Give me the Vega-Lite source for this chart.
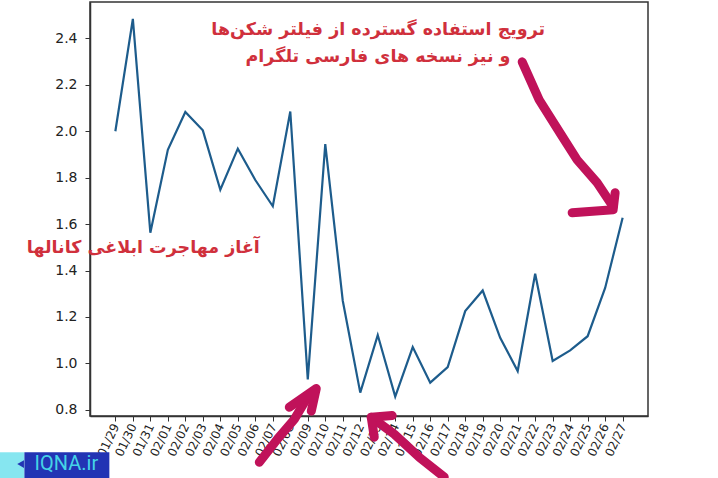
{
  "$schema": "https://vega.github.io/schema/vega-lite/v6.json",
  "autosize": "none",
  "width": 558,
  "height": 414,
  "padding": {"left": 90, "top": 2, "right": 70, "bottom": 62},
  "background": "white",
  "config": {
    "view": {"stroke": "#333333", "strokeWidth": 1.5},
    "axis": {"grid": false, "domainColor": "#333333", "domainWidth": 1.5, "tickColor": "#333333", "labelColor": "#222222", "labelFont": "DejaVu Sans", "title": null}
  },
  "datasets": {
    "series": [
      {"date": "2018-01-29T00:00", "value": 2.0},
      {"date": "2018-01-30T00:00", "value": 2.484},
      {"date": "2018-01-31T00:00", "value": 1.563},
      {"date": "2018-02-01T00:00", "value": 1.92},
      {"date": "2018-02-02T00:00", "value": 2.083},
      {"date": "2018-02-03T00:00", "value": 2.004},
      {"date": "2018-02-04T00:00", "value": 1.748},
      {"date": "2018-02-05T00:00", "value": 1.925},
      {"date": "2018-02-06T00:00", "value": 1.79},
      {"date": "2018-02-07T00:00", "value": 1.677},
      {"date": "2018-02-08T00:00", "value": 2.085},
      {"date": "2018-02-09T00:00", "value": 0.931},
      {"date": "2018-02-10T00:00", "value": 1.945},
      {"date": "2018-02-11T00:00", "value": 1.27},
      {"date": "2018-02-12T00:00", "value": 0.874},
      {"date": "2018-02-13T00:00", "value": 1.122},
      {"date": "2018-02-14T00:00", "value": 0.857},
      {"date": "2018-02-15T00:00", "value": 1.07},
      {"date": "2018-02-16T00:00", "value": 0.917},
      {"date": "2018-02-17T00:00", "value": 0.984},
      {"date": "2018-02-18T00:00", "value": 1.225},
      {"date": "2018-02-19T00:00", "value": 1.314},
      {"date": "2018-02-20T00:00", "value": 1.11},
      {"date": "2018-02-21T00:00", "value": 0.967},
      {"date": "2018-02-22T00:00", "value": 1.386},
      {"date": "2018-02-23T00:00", "value": 1.01},
      {"date": "2018-02-24T00:00", "value": 1.056},
      {"date": "2018-02-25T00:00", "value": 1.117},
      {"date": "2018-02-26T00:00", "value": 1.325},
      {"date": "2018-02-27T00:00", "value": 1.627}
    ],
    "arrows": [
      {"seg": "a1", "o": 1, "date": "2018-02-21T06:10", "value": 2.299},
      {"seg": "a1", "o": 2, "date": "2018-02-22T05:30", "value": 2.135},
      {"seg": "a1", "o": 3, "date": "2018-02-23T11:40", "value": 1.985},
      {"seg": "a1", "o": 4, "date": "2018-02-24T09:36", "value": 1.877},
      {"seg": "a1", "o": 5, "date": "2018-02-25T13:02", "value": 1.778},
      {"seg": "a1", "o": 6, "date": "2018-02-26T10:58", "value": 1.675},
      {"seg": "h1", "o": 1, "date": "2018-02-24T02:44", "value": 1.649},
      {"seg": "h1", "o": 2, "date": "2018-02-26T10:58", "value": 1.662},
      {"seg": "h1", "o": 3, "date": "2018-02-26T13:42", "value": 1.735},
      {"seg": "a2", "o": 1, "date": "2018-02-06T05:30", "value": 0.574},
      {"seg": "a2", "o": 2, "date": "2018-02-07T06:10", "value": 0.673},
      {"seg": "a2", "o": 3, "date": "2018-02-08T05:30", "value": 0.759},
      {"seg": "a2", "o": 4, "date": "2018-02-09T02:04", "value": 0.867},
      {"seg": "h2", "o": 1, "date": "2018-02-07T22:38", "value": 0.811},
      {"seg": "h2", "o": 2, "date": "2018-02-09T11:40", "value": 0.892},
      {"seg": "h2", "o": 3, "date": "2018-02-09T04:48", "value": 0.794},
      {"seg": "a3", "o": 1, "date": "2018-02-16T19:12", "value": 0.51},
      {"seg": "a3", "o": 2, "date": "2018-02-15T08:54", "value": 0.596},
      {"seg": "a3", "o": 3, "date": "2018-02-13T22:38", "value": 0.695},
      {"seg": "a3", "o": 4, "date": "2018-02-12T15:05", "value": 0.768},
      {"seg": "h3", "o": 1, "date": "2018-02-13T19:53", "value": 0.775},
      {"seg": "h3", "o": 2, "date": "2018-02-12T15:05", "value": 0.768},
      {"seg": "h3", "o": 3, "date": "2018-02-12T19:12", "value": 0.682}
    ],
    "notes": [
      {"date": "2018-02-13T00:43", "value": 2.437, "label": "ترویج استفاده گسترده از فیلتر شکن‌ها"},
      {"date": "2018-02-13T00:20", "value": 2.32, "label": "و نیز نسخه های فارسی تلگرام"},
      {"date": "2018-01-30T14:24", "value": 1.495, "label": "آغاز مهاجرت ابلاغی کانالها"}
    ],
    "logo": [
      {"part": "light", "start": "2018-01-22T06:00", "end": "2018-01-23T19:12", "top": 0.617, "bottom": 0.5},
      {"part": "dark", "start": "2018-01-23T19:12", "end": "2018-01-28T15:46", "top": 0.617, "bottom": 0.5}
    ],
    "logoText": [
      {"date": "2018-01-26T04:48", "value": 0.566, "label": "IQNA.ir", "tri": "2018-01-23T14:00"}
    ]
  },
  "layer": [
    {
      "data": {"name": "series"},
      "mark": {"type": "line", "color": "#1d5c8c", "strokeWidth": 2.2},
      "encoding": {
        "x": {
          "field": "date", "type": "temporal",
          "scale": {"domain": [{"year": 2018, "month": 1, "date": 27, "hours": 13, "minutes": 12}, {"year": 2018, "month": 2, "date": 28, "hours": 10, "minutes": 48}], "nice": false},
          "axis": {
            "tickCount": {"interval": "day", "step": 1},
            "labelExpr": "(datum.value < datetime(2018,0,28,12) || datum.value > datetime(2018,1,27,12)) ? '' : timeFormat(datum.value, '%m/%d')",
            "tickOpacity": {"condition": {"test": "datum.value < datetime(2018,0,28,12) || datum.value > datetime(2018,1,27,12)", "value": 0}, "value": 1},
            "labelAngle": -65, "labelFontSize": 12, "tickSize": 5, "labelPadding": 3,
            "labelOverlap": false, "labelFlush": false, "labelBound": false
          }
        },
        "y": {
          "field": "value", "type": "quantitative",
          "scale": {"domain": [0.7733, 2.557], "nice": false, "zero": false},
          "axis": {"values": [0.8, 1.0, 1.2, 1.4, 1.6, 1.8, 2.0, 2.2, 2.4], "format": ".1f", "labelFontSize": 14, "tickSize": 5, "labelPadding": 8}
        }
      }
    },
    {
      "data": {"name": "arrows"},
      "mark": {"type": "line", "color": "#c0125a", "strokeWidth": 9, "strokeCap": "round", "strokeJoin": "round", "clip": false},
      "encoding": {
        "x": {"field": "date", "type": "temporal"},
        "y": {"field": "value", "type": "quantitative"},
        "detail": {"field": "seg"},
        "order": {"field": "o", "type": "quantitative"}
      }
    },
    {
      "data": {"name": "notes"},
      "mark": {"type": "text", "color": "#d0303c", "font": "DejaVu Sans", "fontWeight": "bold", "fontSize": 17.5, "align": "center", "baseline": "middle", "clip": false},
      "encoding": {
        "x": {"field": "date", "type": "temporal"},
        "y": {"field": "value", "type": "quantitative"},
        "text": {"field": "label"}
      }
    },
    {
      "data": {"name": "logo"},
      "mark": {"type": "rect", "clip": false},
      "encoding": {
        "x": {"field": "start", "type": "temporal"},
        "x2": {"field": "end"},
        "y": {"field": "top", "type": "quantitative"},
        "y2": {"field": "bottom"},
        "color": {"field": "part", "type": "nominal", "scale": {"domain": ["light", "dark"], "range": ["#86e6f0", "#2234b4"]}, "legend": null}
      }
    },
    {
      "data": {"name": "logoText"},
      "mark": {"type": "point", "shape": "triangle-left", "filled": true, "color": "#2234b4", "size": 60, "opacity": 1, "clip": false},
      "encoding": {
        "x": {"field": "tri", "type": "temporal"},
        "y": {"field": "value", "type": "quantitative"}
      }
    },
    {
      "data": {"name": "logoText"},
      "mark": {"type": "text", "color": "#45d3e6", "font": "Roboto", "fontSize": 20, "align": "center", "baseline": "middle", "clip": false},
      "encoding": {
        "x": {"field": "date", "type": "temporal"},
        "y": {"field": "value", "type": "quantitative"},
        "text": {"field": "label"}
      }
    }
  ]
}
